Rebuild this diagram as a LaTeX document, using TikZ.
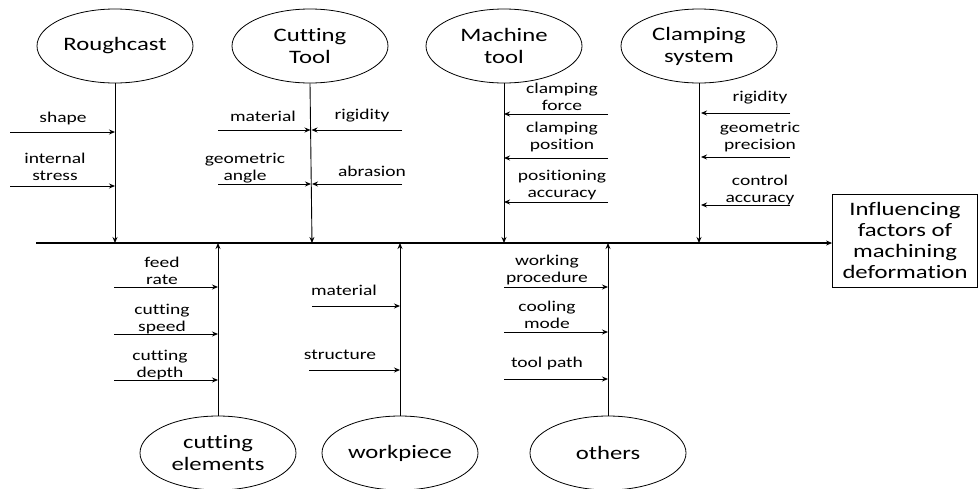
\documentclass[tikz,border=0pt]{standalone}
\usepackage{fontspec}
\usepackage{tikz}
\usetikzlibrary{arrows.meta}
\usetikzlibrary{shapes.geometric}
\usetikzlibrary{positioning}
\newfontfamily\diagfont[FakeStretch=1.3, Ligatures={NoCommon}]{Carlito}
\tikzstyle{edgestyle}=[draw, line width=0.9pt, ->, >={Stealth[length=6pt,width=5pt]}]
\tikzstyle{spinestyle}=[edgestyle, line width=1.05pt]
\tikzstyle{category}=[ellipse, draw, line width=0.8pt, inner sep=0pt, minimum width=156pt, minimum height=74pt, align=center, font=\diagfont\fontsize{19}{22}\selectfont]
\tikzstyle{effectbox}=[rectangle, draw, line width=0.8pt, inner sep=0pt, minimum width=145pt, minimum height=93pt, align=center, font=\diagfont\fontsize{19}{21}\selectfont]
\tikzstyle{cause}=[inner sep=0pt, align=center, font=\diagfont\fontsize{15}{17}\selectfont]

\begin{document}
\begin{tikzpicture}[x=1pt, y=-1pt]
\useasboundingbox (0,0) rectangle (979,488);
% categories
\node [category] (rough) at (115,46) {Roughcast};
\node [category] (cut) at (310,46) {Cutting\\Tool};
\node [category] (mach) at (504,46) {Machine\\tool};
\node [category] (clamp) at (699,46) {Clamping\\system};
\node [category] (elem) at (218,453) {cutting\\elements};
\node [category] (work) at (400,453) {workpiece};
\node [category] (other) at (608,453) {others};
\node [effectbox] (effect) at (905,240.5) {Influencing\\factors of\\machining\\deformation};
% spine
\coordinate (tail) at (36,243);
\draw [spinestyle] (tail) -- (tail -| effect.west);
\draw [edgestyle] (rough.south) -- (rough.south |- tail);
\draw [edgestyle] (cut.south) -- ([xshift=2pt]cut.south |- tail);
\draw [edgestyle] (mach.south) -- (mach.south |- tail);
\draw [edgestyle] (clamp.south) -- (clamp.south |- tail);
\draw [edgestyle] (elem.north) -- (elem.north |- tail);
\draw [edgestyle] (work.north) -- (work.north |- tail);
\draw [edgestyle] (other.north) -- (other.north |- tail);

% Roughcast
\coordinate (shapeS) at (10,132);
\coordinate (stressS) at (10,186);
\draw [edgestyle] (shapeS) -- (shapeS -| rough);
\draw [edgestyle] (stressS) -- (stressS -| rough);
\node [cause] (shapeL) at (63,118) {shape};
\node [cause] (stressL) at (55,167) {internal\\stress};

% Cutting Tool
\coordinate (tmatS) at (218,130);
\coordinate (rigS) at (402,130);
\coordinate (angS) at (218,184);
\coordinate (abrS) at (402,184);
\draw [edgestyle] (tmatS) -- ([xshift=0.5pt]tmatS -| cut);
\draw [edgestyle] (rigS) -- ([xshift=1.5pt]rigS -| cut);
\draw [edgestyle] (angS) -- ([xshift=1pt]angS -| cut);
\draw [edgestyle] (abrS) -- ([xshift=2pt]abrS -| cut);
\node [cause] (tmatL) at (263,116) {material};
\node [cause] (rigL) at (362,116) {rigidity};
\node [cause] (angL) at (245,168) {geometric\\angle};
\node [cause] (abrL) at (372,171) {abrasion};

% Machine tool
\coordinate (forceS) at (608,114);
\coordinate (posS) at (608,158);
\coordinate (accS) at (608,202);
\draw [edgestyle] (forceS) -- (forceS -| mach);
\draw [edgestyle] (posS) -- (posS -| mach);
\draw [edgestyle] (accS) -- (accS -| mach);
\node [cause] (forceL) at (562,97) {clamping\\force};
\node [cause] (posL) at (562,137) {clamping\\position};
\node [cause] (accL) at (562,185) {positioning\\accuracy};

% Clamping system
\coordinate (crigS) at (790,113);
\coordinate (precS) at (790,157);
\coordinate (ctrlS) at (790,205);
\draw [edgestyle] (crigS) -- ([xshift=2pt]crigS -| clamp);
\draw [edgestyle] (precS) -- ([xshift=2pt]precS -| clamp);
\draw [edgestyle] (ctrlS) -- ([xshift=2pt]ctrlS -| clamp);
\node [cause] (crigL) at (760,98) {rigidity};
\node [cause] (precL) at (760,137) {geometric\\precision};
\node [cause] (ctrlL) at (760,190) {control\\accuracy};

% cutting elements
\coordinate (feedS) at (114,287);
\coordinate (speedS) at (114,334);
\coordinate (depthS) at (114,380);
\draw [edgestyle] (feedS) -- (feedS -| elem);
\draw [edgestyle] (speedS) -- (speedS -| elem);
\draw [edgestyle] (depthS) -- (depthS -| elem);
\node [cause] (feedL) at (162,271) {feed\\rate};
\node [cause] (speedL) at (162,319) {cutting\\speed};
\node [cause] (depthL) at (160,365) {cutting\\depth};

% workpiece
\coordinate (wmatS) at (312,306);
\coordinate (structS) at (309,370);
\draw [edgestyle] (wmatS) -- (wmatS -| work);
\draw [edgestyle] (structS) -- (structS -| work);
\node [cause] (wmatL) at (344,290) {material};
\node [cause] (structL) at (340,355) {structure};

% others
\coordinate (procS) at (504,287);
\coordinate (coolS) at (504,332);
\coordinate (pathS) at (504,379);
\draw [edgestyle] (procS) -- (procS -| other);
\draw [edgestyle] (coolS) -- (coolS -| other);
\draw [edgestyle] (pathS) -- (pathS -| other);
\node [cause] (procL) at (547,270) {working\\procedure};
\node [cause] (coolL) at (547,315) {cooling\\mode};
\node [cause] (pathL) at (547,363) {tool path};
\end{tikzpicture}
\end{document}
